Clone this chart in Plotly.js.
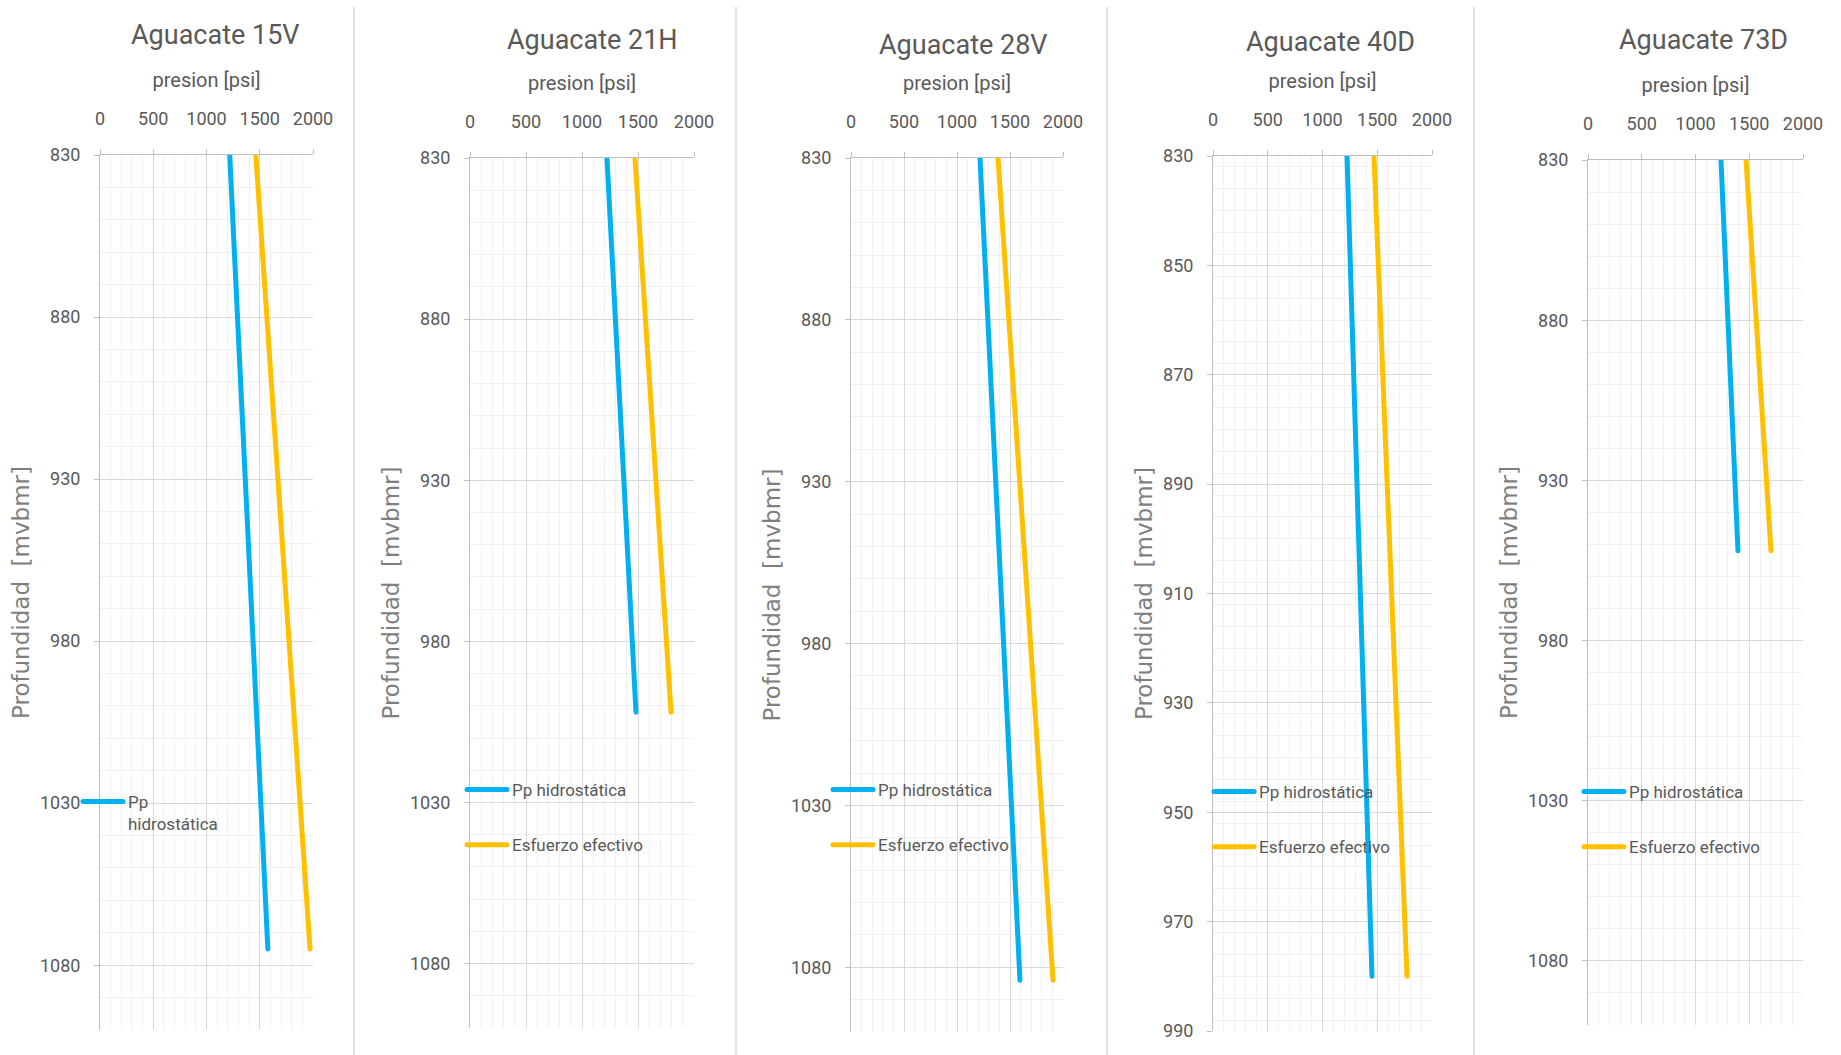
<!DOCTYPE html>
<html>
<head>
<meta charset="utf-8">
<script src="https://cdn.plot.ly/plotly-3.0.1.min.js"></script>
<style>html,body{margin:0;padding:0;background:#fff;}#chart{width:1841px;height:1055px;}#chart .js-line{stroke-linecap:round;}</style>
</head>
<body>
<div id="chart"></div>
<script>
// ---- data ----
const wells = ["Aguacate 15V", "Aguacate 21H", "Aguacate 28V", "Aguacate 40D", "Aguacate 73D"];
const seriesNames = ["Pp hidrostática", "Esfuerzo efectivo"];
const xTitle = "presion [psi]";
const yTitle = "Profundidad\u00a0 [mvbmr]";

const depth15V = [830, 1075];
const pp15V = [1218, 1576];
const esf15V = [1463, 1972];

const depth21H = [830, 1002];
const pp21H = [1223, 1482];
const esf21H = [1473, 1795];

const depth28V = [830, 1084];
const pp28V = [1217, 1594];
const esf28V = [1387, 1906];

const depth40D = [830, 980];
const pp40D = [1224, 1452];
const esf40D = [1470, 1772];

const depth73D = [830, 952];
const pp73D = [1237, 1395];
const esf73D = [1470, 1702];

const xRange = [0, 2000];
const yRanges = [[1100, 830], [1100, 830], [1100, 830], [990, 830], [1100, 830]];
const yDtick = [50, 50, 50, 20, 50];
const yMinorDtick = [10, 10, 10, 4, 10];

// ---- styling / layout ----
const W = 1841, H = 1055;
const px = v => v / W;
const py = v => 1 - v / H;
const NARROW = '"Liberation Sans Narrow", "Arial Narrow", "Roboto", sans-serif';
const TXT = '#595959';
const BLUE = '#00b0f0', YELLOW = '#ffc000';

const panelX = [[100, 313], [470, 694], [851, 1063], [1213, 1432], [1588, 1803]];
const panelY = [[155, 1030], [158, 1028], [158, 1032], [156, 1031], [160, 1025]];
const titlePos = [[215, 35], [592, 40], [964, 45], [1330, 42], [1703, 40]];
const legendPos = [[78, 784], [462, 772], [828, 772], [1209, 774], [1579, 774]];
const separators = [354, 736, 1107, 1474];

const depths = [depth15V, depth21H, depth28V, depth40D, depth73D];
const pps = [pp15V, pp21H, pp28V, pp40D, pp73D];
const esfs = [esf15V, esf21H, esf28V, esf40D, esf73D];

const traces = [];
const layout = {
  width: W, height: H,
  margin: {l: 0, r: 0, t: 0, b: 0},
  paper_bgcolor: '#ffffff', plot_bgcolor: '#ffffff',
  showlegend: true,
  annotations: [], shapes: []
};

for (let i = 0; i < 5; i++) {
  const n = i + 1;
  const xa = 'x' + (n === 1 ? '' : n), ya = 'y' + (n === 1 ? '' : n);
  const legId = n === 1 ? 'legend' : 'legend' + n;
  traces.push({
    type: 'scatter', mode: 'lines', x: pps[i], y: depths[i], xaxis: xa, yaxis: ya,
    name: i === 0 ? 'Pp<br>hidrostática' : seriesNames[0],
    line: {color: BLUE, width: 5}, legend: legId, legendgroup: 'a' + n, hoverinfo: 'skip'
  });
  traces.push({
    type: 'scatter', mode: 'lines', x: esfs[i], y: depths[i], xaxis: xa, yaxis: ya,
    name: seriesNames[1], showlegend: i !== 0,
    line: {color: YELLOW, width: 5}, legend: legId, legendgroup: 'b' + n, hoverinfo: 'skip'
  });
  const axCommon = {
    showgrid: true, gridcolor: '#d9d9d9', gridwidth: 1,
    showline: true, linecolor: '#bfbfbf', linewidth: 1,
    ticks: 'outside', ticklen: 5, tickcolor: '#bfbfbf',
    zeroline: false, tickfont: {family: NARROW, size: 18, color: TXT},
    fixedrange: true
  };
  layout['xaxis' + (n === 1 ? '' : n)] = Object.assign({}, axCommon, {
    domain: [px(panelX[i][0]), px(panelX[i][1])],
    anchor: ya, side: 'top', range: xRange, tick0: 0, dtick: 500,
    minor: {dtick: 100, showgrid: true, gridcolor: '#f0f0f0', gridwidth: 1},
    ticklabelstandoff: 17,
    title: {text: xTitle, font: {family: NARROW, size: 20, color: TXT}, standoff: 14}
  });
  layout['yaxis' + (n === 1 ? '' : n)] = Object.assign({}, axCommon, {
    domain: [py(panelY[i][1]), py(panelY[i][0])],
    anchor: xa, range: yRanges[i], tick0: 830, dtick: yDtick[i],
    minor: {dtick: yMinorDtick[i], showgrid: true, gridcolor: '#f0f0f0', gridwidth: 1},
    ticklabelstandoff: 10,
    title: {text: yTitle, font: {family: '"DejaVu Sans", Verdana, sans-serif', size: 23, color: '#7f7f7f'}, standoff: 3}
  });
  layout[legId] = {
    x: px(legendPos[i][0]), y: py(legendPos[i][1]), xanchor: 'left', yanchor: 'top',
    bgcolor: 'rgba(0,0,0,0)', borderwidth: 0,
    font: {family: NARROW, size: 17, color: TXT},
    traceorder: 'grouped', tracegroupgap: 30, itemwidth: 40, valign: 'top'
  };
  layout.annotations.push({
    text: wells[i], xref: 'paper', yref: 'paper',
    x: px(titlePos[i][0]), y: py(titlePos[i][1]), xanchor: 'center', yanchor: 'middle',
    showarrow: false, font: {family: NARROW, size: 27, color: TXT}
  });
}
separators.forEach(s => {
  layout.shapes.push({type: 'line', xref: 'paper', yref: 'paper',
    x0: px(s), x1: px(s), y0: py(7), y1: py(1055), line: {color: '#d9d9d9', width: 1.5}});
});

Plotly.newPlot('chart', traces, layout, {displayModeBar: false, staticPlot: true});
</script>
</body>
</html>
